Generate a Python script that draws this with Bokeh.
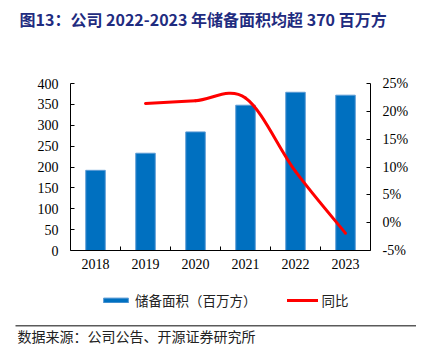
from bokeh.plotting import figure
from bokeh.embed import file_html
from bokeh.resources import INLINE
from bokeh.models import (Range1d, LinearAxis, FixedTicker, PrintfTickFormatter,
                          Label, Legend, LegendItem, BoxAnnotation)

# ---- data ----
years = ["2018", "2019", "2020", "2021", "2022", "2023"]
area = [192, 233, 284, 348, 379, 372]          # 储备面积（百万方）
yoy_years = ["2019", "2020", "2021", "2022", "2023"]
yoy = [21.4, 21.9, 22.4, 9.2, -1.9]            # 同比 (%)
left_ticks = [0, 50, 100, 150, 200, 250, 300, 350, 400]
right_ticks = [-5, 0, 5, 10, 15, 20, 25]

title_text = "图13：公司 2022-2023 年储备面积均超 370 百万方"
source_text = "数据来源：公司公告、开源证券研究所"
bar_name = "储备面积（百万方）"
line_name = "同比"

SERIF = "Liberation Serif"
CJK = "Noto Sans CJK SC"

# ---- layout (pixels) ----
W, H = 416, 345
PL, PR, PT, PB = 70, 370, 83, 250      # plot area in canvas px
L_MIN, L_MAX = left_ticks[0], left_ticks[-1]
R_MIN, R_MAX = right_ticks[0], right_ticks[-1]
NX = len(years)

# ranges chosen so that the frame spans the whole canvas while the
# chart area maps onto the plot-area pixels above
xs = NX / (PR - PL)
ls = (L_MAX - L_MIN) / (PB - PT)
rs = (R_MAX - R_MIN) / (PB - PT)
x_range = Range1d(0 - PL * xs, NX + (W - PR) * xs)
y_range = Range1d(L_MIN - (H - PB) * ls, L_MAX + PT * ls)

p = figure(width=W, height=H, output_backend="svg", toolbar_location=None,
           x_range=x_range, y_range=y_range,
           min_border=0, min_border_left=0, min_border_right=0,
           min_border_top=0, min_border_bottom=0)
p.outline_line_color = None
p.grid.visible = False
p.background_fill_color = "white"
p.border_fill_color = "white"
p.extra_y_ranges = {"yoy": Range1d(R_MIN - (H - PB) * rs, R_MAX + PT * rs)}

xpos = {y: i + 0.5 for i, y in enumerate(years)}

bars = p.vbar(x=[xpos[y] for y in years], top=area, width=0.39, bottom=0,
              fill_color="#0070C0", line_color="#5B9BD5", line_width=1)

# smoothed line (Excel-style bezier segments through the data points)
lx = [xpos[y] for y in yoy_years]
ly = yoy
n = len(lx)
x0s, y0s, x1s, y1s, cx0s, cy0s, cx1s, cy1s = [], [], [], [], [], [], [], []
for i in range(n - 1):
    a = i - 1 if i > 0 else i
    d = i + 2 if i + 2 < n else i + 1
    x0s.append(lx[i]); y0s.append(ly[i])
    x1s.append(lx[i + 1]); y1s.append(ly[i + 1])
    cx0s.append(lx[i] + (lx[i + 1] - lx[a]) / 6)
    cy0s.append(ly[i] + (ly[i + 1] - ly[a]) / 6)
    cx1s.append(lx[i + 1] - (lx[d] - lx[i]) / 6)
    cy1s.append(ly[i + 1] - (ly[d] - ly[i]) / 6)
curve = p.bezier(x0=x0s, y0=y0s, x1=x1s, y1=y1s, cx0=cx0s, cy0=cy0s,
                 cx1=cx1s, cy1=cy1s, line_color="#FF0000", line_width=3,
                 line_cap="round", y_range_name="yoy")


def style_axis(ax):
    ax.axis_line_color = "#000000"
    ax.axis_line_width = 1
    ax.major_tick_line_color = "#000000"
    ax.minor_tick_line_color = "#000000"
    ax.major_label_text_font = SERIF
    ax.major_label_text_font_size = "14px"
    ax.major_label_text_color = "#000000"
    ax.major_tick_out = 0
    ax.minor_tick_out = 0


xa = p.xaxis[0]
xa.ticker = FixedTicker(ticks=[xpos[y] for y in years],
                        minor_ticks=[i for i in range(1, NX)])
xa.major_label_overrides = {xpos[y]: y for y in years}
xa.fixed_location = 0
xa.bounds = (0, NX)
style_axis(xa)
xa.major_tick_in = 0
xa.minor_tick_in = 4
xa.major_label_standoff = 8

ya = p.yaxis[0]
ya.ticker = FixedTicker(ticks=left_ticks, minor_ticks=[])
ya.fixed_location = 0
ya.bounds = (L_MIN, L_MAX)
style_axis(ya)
ya.major_tick_in = 4
ya.minor_tick_in = 0
ya.major_label_standoff = 12

ra = LinearAxis(y_range_name="yoy",
                ticker=FixedTicker(ticks=right_ticks, minor_ticks=[]),
                formatter=PrintfTickFormatter(format="%d%%"),
                fixed_location=NX, bounds=(R_MIN, R_MAX))
style_axis(ra)
ra.major_tick_in = 4
ra.minor_tick_in = 0
ra.major_label_standoff = 12
p.add_layout(ra, "right")

legend = Legend(items=[LegendItem(label=bar_name, renderers=[bars]),
                       LegendItem(label=line_name, renderers=[curve])],
                orientation="horizontal", location=(100, H - 310),
                glyph_width=31, glyph_height=6, label_standoff=4,
                spacing=30, padding=0, margin=0,
                border_line_color=None, background_fill_alpha=0,
                label_text_font=CJK, label_text_font_size="13.5px",
                label_text_color="#222222", label_height=20)
p.add_layout(legend, "center")

# title
p.add_layout(Label(x=19, y=H - 18, x_units="screen", y_units="screen",
                   text=title_text, text_font=CJK, text_font_size="16px",
                   text_font_style="bold", text_color="#1F2C80",
                   text_baseline="middle"))

# rule line
p.add_layout(BoxAnnotation(left=15, right=W, bottom=H - 326, top=H - 324.5,
                           left_units="screen", right_units="screen",
                           bottom_units="screen", top_units="screen",
                           fill_color="#5A5A5A", fill_alpha=1, line_color=None))

# source
p.add_layout(Label(x=17, y=H - 335, x_units="screen", y_units="screen",
                   text=source_text, text_font=CJK, text_font_size="14px",
                   text_color="#222222", text_baseline="middle"))

open("out.html", "w").write(file_html(p, INLINE))
